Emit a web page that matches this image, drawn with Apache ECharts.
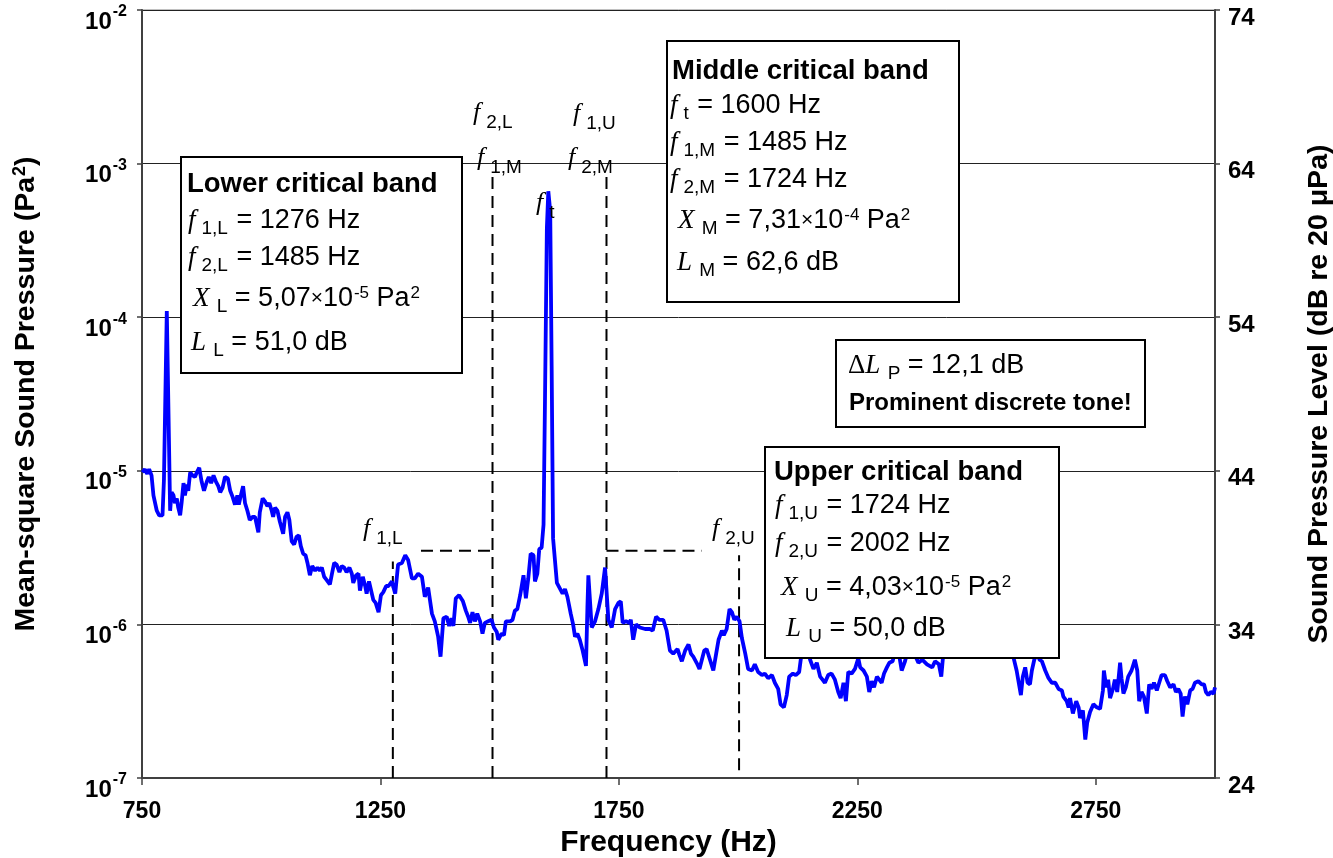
<!DOCTYPE html>
<html>
<head>
<meta charset="utf-8">
<script src="https://cdn.jsdelivr.net/npm/echarts@6/dist/echarts.min.js"></script>
<style>
html,body{margin:0;padding:0;background:#fff;}
#chart{width:1333px;height:858px;}
</style>
</head>
<body>
<div id="chart"></div>
<script>
// ---- Data (frequency in Hz, level in dB re 20 µPa on the right axis) ----
var freqHz = [751,756,761,765,770,774,781,786,793,796,802,809,812,816,819,823,826,830,833,837,840,844,847,851,856,861,865,870,875,880,886,890,895,900,905,910,914,919,924,930,935,940,945,950,953,958,962,966,971,976,982,987,994,997,1003,1008,1013,1017,1022,1025,1029,1034,1039,1046,1050,1055,1059,1064,1069,1074,1079,1083,1088,1093,1097,1102,1107,1113,1118,1123,1127,1132,1137,1144,1149,1153,1158,1164,1169,1174,1179,1185,1190,1193,1199,1204,1207,1213,1218,1221,1226,1230,1235,1240,1246,1251,1256,1262,1267,1274,1281,1287,1295,1302,1308,1316,1322,1329,1337,1343,1350,1358,1364,1371,1376,1382,1389,1394,1399,1403,1408,1415,1423,1429,1434,1438,1443,1448,1453,1459,1464,1469,1476,1483,1488,1494,1497,1504,1509,1513,1522,1527,1532,1537,1543,1550,1555,1560,1565,1571,1574,1579,1583,1588,1592,1595,1599,1602,1606,1609,1612,1620,1627,1632,1637,1642,1649,1654,1658,1663,1668,1674,1681,1684,1686,1689,1693,1700,1707,1714,1721,1728,1735,1742,1749,1754,1758,1765,1772,1775,1780,1786,1794,1805,1815,1821,1828,1835,1843,1850,1857,1864,1873,1877,1882,1889,1896,1901,1906,1913,1919,1924,1929,1934,1941,1948,1954,1959,1966,1970,1976,1982,1987,1992,1997,2003,2008,2015,2021,2029,2035,2042,2050,2056,2063,2071,2077,2084,2089,2096,2102,2107,2115,2121,2128,2133,2138,2145,2151,2158,2165,2172,2177,2182,2189,2196,2203,2210,2215,2221,2226,2231,2238,2245,2252,2256,2263,2270,2275,2280,2285,2291,2296,2301,2306,2312,2317,2324,2329,2335,2343,2350,2356,2365,2371,2378,2386,2396,2407,2413,2421,2426,2430,2440,2455,2470,2486,2503,2520,2539,2556,2570,2577,2584,2593,2597,2602,2607,2612,2616,2621,2627,2632,2637,2644,2651,2658,2665,2672,2679,2682,2689,2693,2696,2702,2709,2714,2717,2723,2728,2732,2738,2745,2752,2759,2765,2767,2772,2776,2780,2786,2790,2795,2801,2804,2808,2813,2818,2825,2832,2837,2841,2846,2851,2857,2862,2867,2872,2878,2883,2888,2895,2900,2906,2913,2918,2923,2928,2932,2937,2942,2948,2953,2958,2965,2972,2977,2981,2986,2991,2997,3000];
var splDb = [43.9,44.1,43.8,44.1,43.7,42.4,41.4,41.1,41.1,43.4,54.4,41.4,42.6,42.4,41.9,42.2,41.6,41.1,41.9,43.2,42.4,43.1,42.7,43.9,43.7,43.6,43.9,44.2,43.3,42.7,43.3,43.6,43.2,43.7,43.3,43.0,42.6,42.9,43.6,43.5,42.7,42.3,41.8,42.4,41.8,42.5,43.0,41.9,41.4,40.8,41.0,41.0,40.0,41.3,42.2,42.0,41.7,41.9,41.4,41.0,41.6,41.4,40.7,39.9,41.0,41.3,40.8,39.4,39.2,39.7,39.8,39.1,38.6,38.5,38.0,37.2,37.8,37.5,37.7,37.5,37.7,37.1,36.9,36.6,37.4,38.0,37.9,37.4,37.8,37.7,37.4,37.7,37.3,36.7,37.2,37.3,36.2,37.1,36.5,36.0,36.8,36.7,35.6,35.4,34.8,35.9,36.1,36.5,36.5,36.8,36.0,37.9,38.0,38.5,38.2,37.0,37.0,37.3,37.1,35.8,36.4,34.7,34.2,33.2,31.9,34.4,34.5,33.9,34.4,33.9,35.7,35.9,35.5,34.9,34.5,34.1,34.8,34.2,34.7,34.2,33.4,34.1,34.2,34.3,33.8,33.5,33.0,33.4,33.3,34.2,34.2,34.3,34.9,35.0,35.9,37.2,35.7,37.0,38.6,38.5,36.8,37.3,38.9,39.0,40.5,48.5,59.8,62.2,60.9,50.8,39.6,36.7,36.3,36.0,36.3,35.8,34.7,34.0,33.2,33.4,33.0,32.3,31.3,35.1,37.2,37.3,33.8,34.2,35.0,36.0,37.7,34.3,33.8,35.0,35.4,35.5,34.1,34.2,34.1,34.3,33.0,34.0,33.8,33.7,33.7,33.6,34.5,34.3,34.3,33.6,32.3,32.1,32.4,32.0,31.6,32.3,32.7,32.1,31.9,31.5,31.1,31.7,32.3,32.4,31.7,31.0,32.1,33.0,33.6,33.3,33.7,35.0,34.8,34.3,34.5,34.2,33.1,32.1,31.1,31.0,31.4,30.9,30.7,30.8,30.5,30.7,30.2,29.8,28.8,28.6,29.4,30.6,30.8,30.7,30.9,32.1,33.0,32.5,31.7,31.1,31.5,30.6,30.4,30.2,30.7,30.8,30.4,29.6,29.2,30.2,29.0,30.9,30.8,31.1,31.8,31.2,31.0,30.6,29.6,30.3,29.9,30.6,30.4,30.2,30.8,31.2,31.5,31.6,32.2,32.5,31.0,31.6,32.3,32.7,32.0,31.5,31.7,31.4,31.2,31.6,31.4,30.6,32.0,32.7,33.0,32.5,32.9,33.1,32.6,33.0,32.7,32.3,31.9,31.0,29.4,30.6,31.2,30.2,30.1,31.0,31.7,32.2,31.7,31.6,31.0,30.5,30.2,30.2,29.8,29.7,29.3,29.0,28.6,29.2,28.2,29.0,28.6,27.9,28.4,26.5,27.6,28.3,28.8,28.6,28.5,29.7,31.0,29.9,30.4,29.2,29.8,30.4,29.6,31.5,30.5,29.5,29.9,30.6,31.0,31.7,31.0,29.0,29.6,29.3,28.2,30.1,29.8,30.2,29.7,30.2,30.7,30.7,30.3,29.9,30.1,29.6,29.8,29.5,28.0,29.3,28.8,29.7,29.8,30.2,30.3,30.1,30.1,29.6,29.4,29.6,29.5,29.9];

// Critical band limits (Hz) and the dashed guide levels (dB)
var bandEdgesHz = [1276, 1485, 1724, 2002];
var edgeTopDb = [38.1, 63.5, 63.5, 38.5];
var edgeBottomDb = [24, 24, 24, 24.5];
var bandLevelLower = {from: 1335, to: 1485, db: 38.8};
var bandLevelUpper = {from: 1724, to: 1924, db: 38.8};

// Axis ranges / ticks
var freqTicks = {min: 750, max: 3000, interval: 500};
var msExtent = [1e-7, 1e-2];
var dbTicks = {min: 24, max: 74, interval: 10};

var SANS = "'Liberation Sans', Arial, sans-serif";
var SERIF = "'Liberation Serif', 'Times New Roman', serif";

var spectrum = freqHz.map(function (f, i) { return [f, splDb[i]]; });

var series = [{
  type: 'line', yAxisIndex: 1, data: spectrum, showSymbol: false, symbol: 'none',
  lineStyle: {color: '#0000ff', width: 3.8}, itemStyle: {color: '#0000ff'}, z: 5, silent: true,
  animation: false
}];
var dash = {color: '#000', width: 2, type: [12, 7]};
bandEdgesHz.forEach(function (f, i) {
  series.push({type: 'line', yAxisIndex: 1, data: [[f, edgeBottomDb[i]], [f, edgeTopDb[i]]],
    symbol: 'none', lineStyle: dash, z: 4, silent: true, animation: false});
});
[bandLevelLower, bandLevelUpper].forEach(function (b) {
  series.push({type: 'line', yAxisIndex: 1, data: [[b.from, b.db], [b.to, b.db]],
    symbol: 'none', lineStyle: dash, z: 4, silent: true, animation: false});
});

// ---- annotation text helpers ----
var RICH = {
  t:   {fontFamily: SANS, fontSize: 27, fill: '#000', verticalAlign: 'middle'},
  h:   {fontFamily: SANS, fontSize: 27.5, fontWeight: 'bold', fill: '#000', verticalAlign: 'middle'},
  p:   {fontFamily: SANS, fontSize: 24, fontWeight: 'bold', fill: '#000', verticalAlign: 'middle'},
  fi:  {fontFamily: SERIF, fontSize: 27, fontStyle: 'italic', fill: '#000', verticalAlign: 'middle'},
  sub: {fontFamily: SANS, fontSize: 19, fill: '#000', padding: [16, 0, 0, 2], verticalAlign: 'middle'},
  sf:  {fontFamily: SANS, fontSize: 19, fill: '#000', padding: [16, 1, 0, 6], verticalAlign: 'middle'},
  sup: {fontFamily: SANS, fontSize: 17, fill: '#000', padding: [0, 0, 10, 1], verticalAlign: 'middle'},
  x:   {fontFamily: SANS, fontSize: 21, fill: '#000', verticalAlign: 'middle'},
  sym: {fontFamily: SERIF, fontSize: 27, fill: '#000', verticalAlign: 'middle'},
  lf:  {fontFamily: SERIF, fontSize: 26, fontStyle: 'italic', fill: '#000', verticalAlign: 'middle'},
  ls:  {fontFamily: SANS, fontSize: 19, fill: '#000', padding: [19, 0, 0, 6], verticalAlign: 'middle'}
};
function txt(x, baseline, text, shift) {
  return {type: 'text', x: x, y: baseline - (shift == null ? 9.4 : shift), z: 120, silent: true,
    style: {text: text, rich: RICH, align: 'left', verticalAlign: 'middle',
            textAlign: 'left', textVerticalAlign: 'middle', fill: '#000'}};
}
function box(x, y, w, h) {
  return {type: 'rect', z: 110, silent: true, shape: {x: x, y: y, width: w, height: h},
    style: {fill: '#fff', stroke: '#000', lineWidth: 2}};
}
function lbl(x, fBase, sub) {
  return txt(x, fBase, '{lf|f}{ls|' + sub + '}', 9);
}

var graphics = [
  // Lower critical band
  box(181, 157, 281, 216),
  txt(187, 194, '{h|Lower critical band}'),
  txt(188, 230, '{fi|f}{sf|1,L}{t| = 1276 Hz}'),
  txt(188, 267, '{fi|f}{sf|2,L}{t| = 1485 Hz}'),
  txt(193, 308, '{fi|X}{sub| L}{t| = 5,07}{x|×}{t|10}{sup|-5}{t| Pa}{sup|2}'),
  txt(191, 352, '{fi|L}{sub| L}{t| = 51,0 dB}'),
  // Middle critical band
  box(667, 41, 292, 261),
  txt(672, 81, '{h|Middle critical band}'),
  txt(670, 115, '{fi|f}{sf|t}{t| = 1600 Hz}'),
  txt(670, 152, '{fi|f}{sf|1,M}{t| = 1485 Hz}'),
  txt(670, 189, '{fi|f}{sf|2,M}{t| = 1724 Hz}'),
  txt(678, 230, '{fi|X}{sub| M}{t| = 7,31}{x|×}{t|10}{sup|-4}{t| Pa}{sup|2}'),
  txt(677, 272, '{fi|L}{sub| M}{t| = 62,6 dB}'),
  // Prominence box
  box(836, 340, 309, 87),
  txt(848, 375, '{sym|Δ}{fi|L}{sub| P}{t| = 12,1 dB}'),
  txt(849, 412, '{p|Prominent discrete tone!}', 8.3),
  // Upper critical band
  box(765, 447, 294, 211),
  txt(774, 482, '{h|Upper critical band}'),
  txt(775, 515, '{fi|f}{sf|1,U}{t| = 1724 Hz}'),
  txt(775, 553, '{fi|f}{sf|2,U}{t| = 2002 Hz}'),
  txt(781, 597, '{fi|X}{sub| U}{t| = 4,03}{x|×}{t|10}{sup|-5}{t| Pa}{sup|2}'),
  txt(786, 638, '{fi|L}{sub| U}{t| = 50,0 dB}'),
  // band-edge labels
  lbl(363, 538, '1,L'),
  lbl(712, 538, '2,U'),
  lbl(473, 122, '2,L'),
  lbl(477, 167, '1,M'),
  lbl(573, 123, '1,U'),
  lbl(568, 167, '2,M'),
  lbl(536, 212, 't')
];

var axisLineStyle = {color: '#404040', width: 2};
var option = {
  backgroundColor: '#fff',
  animation: false,
  grid: {left: 142, right: 118, top: 10, bottom: 80, show: true, borderColor: '#808080', borderWidth: 1,
         containLabel: false, outerBoundsMode: 'none'},
  xAxis: {
    type: 'value', min: freqTicks.min, max: freqTicks.max, interval: freqTicks.interval,
    axisLine: {show: true, onZero: false, lineStyle: axisLineStyle},
    axisTick: {show: true, inside: false, length: 7, lineStyle: {color: '#404040', width: 1.5}},
    splitLine: {show: false},
    axisLabel: {fontFamily: SANS, fontSize: 23, fontWeight: 'bold', color: '#000', margin: 22, showMaxLabel: false,
      formatter: function (v) { return String(v); }},
    name: 'Frequency (Hz)', nameLocation: 'middle', nameGap: 40,
    nameTextStyle: {fontFamily: SANS, fontSize: 30, fontWeight: 'bold', color: '#000', padding: [0, 20, 0, 0]}
  },
  yAxis: [{
    type: 'log', logBase: 10, min: msExtent[0], max: msExtent[1], position: 'left',
    axisLine: {show: true, lineStyle: axisLineStyle},
    axisTick: {show: true, inside: false, length: 5, lineStyle: {color: '#404040', width: 1.5}},
    minorTick: {show: false},
    splitLine: {show: true, lineStyle: {color: '#222', width: 1}},
    axisLabel: {
      margin: 15,
      formatter: function (v) { return '{b|10}{s|' + Math.round(Math.log10(v)) + '}'; },
      rich: {
        b: {fontFamily: SANS, fontSize: 24, fontWeight: 'bold', color: '#000', padding: [24, 0, 0, 0], verticalAlign: 'middle'},
        s: {fontFamily: SANS, fontSize: 16, fontWeight: 'bold', color: '#000', padding: [4, 0, 0, 1], verticalAlign: 'middle'}
      }
    },
    name: '{a|Mean-square Sound Pressure (Pa}{s|2}{a|)}', nameLocation: 'middle', nameRotate: 90, nameGap: 100,
    nameTextStyle: {
      rich: {
        a: {fontFamily: SANS, fontSize: 28.5, fontWeight: 'bold', color: '#000', verticalAlign: 'middle'},
        s: {fontFamily: SANS, fontSize: 18, fontWeight: 'bold', color: '#000', padding: [0, 0, 13, 1], verticalAlign: 'middle'}
      }
    }
  }, {
    type: 'value', min: dbTicks.min, max: dbTicks.max, interval: dbTicks.interval, position: 'right',
    axisLine: {show: true, lineStyle: axisLineStyle},
    axisTick: {show: true, inside: false, length: 5, lineStyle: {color: '#404040', width: 1.5}},
    splitLine: {show: false},
    axisLabel: {margin: 13,
      formatter: function (v) { return '{a|' + v + '}'; },
      rich: {a: {fontFamily: SANS, fontSize: 24, fontWeight: 'bold', color: '#000', padding: [16, 0, 0, 0], verticalAlign: 'middle'}}},
    name: 'Sound Pressure Level (dB re 20 μPa)', nameLocation: 'middle', nameRotate: 90, nameGap: 90,
    nameTextStyle: {fontFamily: SANS, fontSize: 28.5, fontWeight: 'bold', color: '#000'}
  }],
  series: series,
  graphic: graphics
};

var chart = echarts.init(document.getElementById('chart'), null, {renderer: 'canvas'});
chart.setOption(option);
</script>
</body>
</html>
